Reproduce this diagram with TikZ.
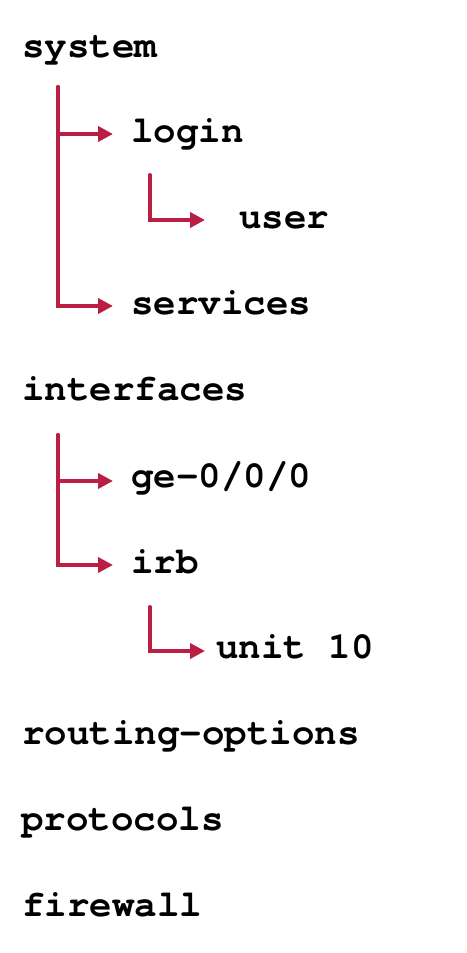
\documentclass[tikz,border=0pt]{standalone}
\usepackage{fontspec}
\setmonofont{TeX Gyre Cursor}[Ligatures={NoCommon}]
\usetikzlibrary{arrows.meta,calc}
\definecolor{tree}{RGB}{186,30,67}
\begin{document}
\begin{tikzpicture}[x=1pt,y=-1pt,
 lbl/.style={anchor=base west,inner sep=0pt,font=\fontsize{37.5}{40}\selectfont\ttfamily\bfseries},
 conn/.style={draw=tree,line width=4pt,line cap=round,-{Triangle[length=15pt,width=15pt]}}]
\useasboundingbox (0,0) rectangle (466,953);
\fill[white] (0,0) rectangle (466,953);
\node[lbl] (system) at (22,57) {system};
\node[lbl] (login) at (131,142) {login};
\node[lbl] (user) at (239,228) {user};
\node[lbl] (services) at (131,314) {services};
\node[lbl] (interfaces) at (22,400) {interfaces};
\node[lbl] (ge) at (131,487) {ge-0/0/0};
\node[lbl] (irb) at (131,573) {irb};
\node[lbl] (unit) at (216,658) {unit 10};
\node[lbl] (routing) at (22,744) {routing-options};
\node[lbl] (protocols) at (21,830) {protocols};
\node[lbl] (firewall) at (22,916) {f{}irewall};
\coordinate (s1) at (58,87);
\coordinate (t-login) at (113,134);
\coordinate (t-services) at (113,306);
\coordinate (s2) at (150,175);
\coordinate (t-user) at (205,220);
\coordinate (s3) at (58,435);
\coordinate (t-ge) at (113,481);
\coordinate (t-irb) at (113,565);
\coordinate (s4) at (150,607);
\coordinate (t-unit) at (205,651);
\draw[conn] (s1) |- (t-login);
\draw[conn] (s1) |- (t-services);
\draw[conn] (s2) |- (t-user);
\draw[conn] (s3) |- (t-ge);
\draw[conn] (s3) |- (t-irb);
\draw[conn] (s4) |- (t-unit);
\end{tikzpicture}
\end{document}
